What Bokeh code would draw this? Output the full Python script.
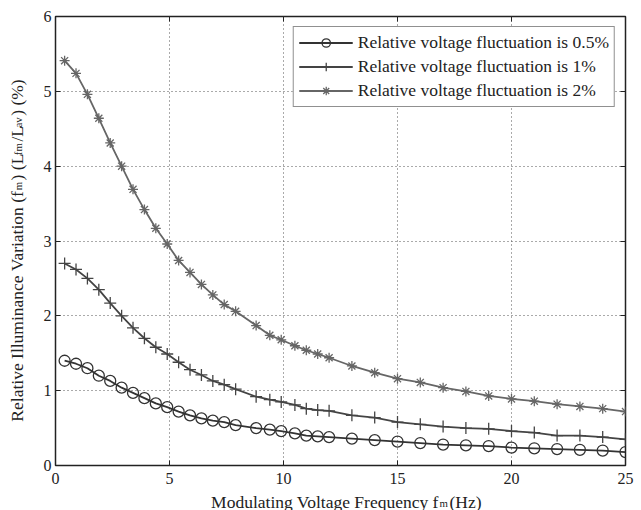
from bokeh.plotting import figure
from bokeh.models import Range1d, FixedTicker, LinearAxis, ColumnDataSource
from bokeh.layouts import row, column
from bokeh.core.properties import value
from bokeh.embed import file_html
from bokeh.resources import INLINE
import math

# Modulating voltage frequency (Hz)
freq = [0.4, 0.9, 1.4, 1.9, 2.4, 2.9, 3.4, 3.9, 4.4, 4.9, 5.4, 5.9, 6.4, 6.9, 7.4, 7.9,
        8.8, 9.4, 9.9, 10.5, 11.0, 11.5, 12,
        13, 14, 15, 16, 17, 18, 19, 20, 21, 22, 23, 24, 25]

# Relative illuminance variation (%) for each voltage fluctuation level
fluct_05 = [1.40, 1.36, 1.30, 1.20, 1.13, 1.04, 0.97, 0.90, 0.83, 0.78, 0.72, 0.67, 0.63, 0.60, 0.58, 0.54,
            0.50, 0.48, 0.46, 0.43, 0.40, 0.39, 0.38,
            0.36, 0.34, 0.32, 0.30, 0.28, 0.27, 0.26, 0.24, 0.23, 0.22, 0.21, 0.20, 0.18]
fluct_1 = [2.70, 2.62, 2.50, 2.35, 2.17, 2.00, 1.84, 1.70, 1.58, 1.49, 1.38, 1.28, 1.21, 1.13, 1.08, 1.02,
           0.92, 0.88, 0.85, 0.81, 0.76, 0.74, 0.73,
           0.67, 0.64, 0.58, 0.55, 0.52, 0.50, 0.49, 0.46, 0.44, 0.40, 0.40, 0.38, 0.35]
fluct_2 = [5.41, 5.24, 4.96, 4.64, 4.31, 4.00, 3.69, 3.42, 3.17, 2.96, 2.74, 2.58, 2.42, 2.28, 2.15, 2.06,
           1.87, 1.74, 1.68, 1.60, 1.54, 1.49, 1.44,
           1.33, 1.24, 1.16, 1.11, 1.04, 0.99, 0.93, 0.89, 0.86, 0.82, 0.79, 0.76, 0.72]

series_labels = ["Relative voltage fluctuation is 0.5%",
                 "Relative voltage fluctuation is 1%",
                 "Relative voltage fluctuation is 2%"]

x_ticks = [0, 5, 10, 15, 20, 25]
y_ticks = [0, 1, 2, 3, 4, 5, 6]

FONT = "Liberation Serif"
INK = "#222222"

# overall canvas 641 x 510: a left strip for the y title, a bottom strip for the x title
W, H = 641, 510
LEFT_W, BOTTOM_H = 30, 22

p = figure(width=W - LEFT_W, height=H - BOTTOM_H, output_backend="svg", toolbar_location=None,
           x_range=Range1d(0, 25), y_range=Range1d(0, 6), frame_align=False,
           min_border_left=25, min_border_right=16, min_border_top=16, min_border_bottom=23)
p.background_fill_color = "white"
p.border_fill_color = "white"
p.outline_line_color = INK
p.outline_line_width = 1.5

# grid: dotted, MATLAB style
for g in (p.xgrid, p.ygrid):
    g.grid_line_color = "#555555"
    g.grid_line_dash = "1 3"
    g.grid_line_width = 1
p.xgrid.ticker = FixedTicker(ticks=x_ticks[1:-1])
p.ygrid.ticker = FixedTicker(ticks=y_ticks[1:-1])


def style_axis(ax, ticks, show_labels, standoff):
    ax.ticker = FixedTicker(ticks=ticks)
    ax.axis_line_color = None
    ax.major_tick_in = 5
    ax.major_tick_out = 0
    ax.major_tick_line_color = INK
    ax.major_tick_line_width = 1
    ax.minor_tick_line_color = None
    ax.major_label_text_font = FONT
    ax.major_label_text_font_size = "16px"
    ax.major_label_text_color = INK
    ax.major_label_standoff = standoff
    if not show_labels:
        ax.major_label_overrides = {t: "" for t in ticks}
        ax.major_label_text_font_size = "0px"
        ax.major_label_standoff = 0


style_axis(p.xaxis[0], x_ticks, True, 7)
style_axis(p.yaxis[0], y_ticks, True, 4)

top_axis = LinearAxis()
style_axis(top_axis, x_ticks, False, 0)
p.add_layout(top_axis, "above")
right_axis = LinearAxis()
style_axis(right_axis, y_ticks, False, 0)
p.add_layout(right_axis, "right")

styles = [
    ("circle", "#333333", 11),
    ("cross", "#444444", 12),
    ("asterisk", "#666666", 10),
]
for vals, label, (marker, color, size) in zip([fluct_05, fluct_1, fluct_2], series_labels, styles):
    p.line(freq, vals, line_color=color, line_width=1.8, legend_label=label)
    p.scatter(freq, vals, marker=marker, size=size, line_color=color, fill_color=None,
              line_width=1.3, legend_label=label)

lg = p.legend[0]
lg.location = "top_right"
lg.margin = 10
lg.label_text_font = FONT
lg.label_text_font_size = "17.5px"
lg.label_text_color = INK
lg.glyph_width = 54
lg.glyph_height = 21
lg.label_height = 21
lg.spacing = 3
lg.padding = 5
lg.label_standoff = 5
lg.border_line_color = INK
lg.border_line_width = 1.5
lg.background_fill_color = "white"
lg.background_fill_alpha = 1.0

# Times-compatible advance widths (1/1000 em) used to lay out titles with subscripts
ADV = {' ': 250, '(': 333, ')': 333, '/': 278, '%': 833, 'R': 667, 'I': 333, 'V': 722,
       'L': 611, 'M': 889, 'F': 556, 'H': 722, 'a': 444, 'c': 444, 'd': 500, 'e': 444,
       'f': 333, 'g': 500, 'i': 278, 'l': 278, 'm': 778, 'n': 500, 'o': 500, 'q': 500,
       'r': 333, 't': 278, 'u': 500, 'v': 500, 'y': 500, 'z': 444}
SUB = 0.62


def text_width(s, fs):
    return sum(ADV.get(c, 500) for c in s) / 1000.0 * fs


def title_source(pieces, fs, center, base, vertical):
    """Lay out a title made of normal and subscript runs along a line."""
    total = sum(text_width(t, fs * SUB if sub else fs) for t, sub in pieces)
    pos = center - total / 2.0
    cols = dict(x=[], y=[], text=[], size=[])
    for t, sub in pieces:
        size = fs * SUB if sub else fs
        shift = 1 if sub else 0
        tuck = -1.5 if sub else 0   # pull subscripts against the preceding letter
        if vertical:
            cols["x"].append(base + shift)
            cols["y"].append(pos + tuck)
        else:
            cols["x"].append(pos + tuck)
            cols["y"].append(base - shift)
        cols["text"].append(t)
        cols["size"].append(f"{size:.1f}px")
        pos += text_width(t, size)
    return ColumnDataSource(cols)


def strip(width, height):
    f = figure(width=width, height=height, output_backend="svg", toolbar_location=None,
               x_range=Range1d(0, width), y_range=Range1d(0, height), frame_align=False,
               min_border=0, x_axis_location=None, y_axis_location=None)
    f.grid.visible = False
    f.outline_line_color = None
    f.background_fill_color = "white"
    f.border_fill_color = "white"
    return f


x_title = strip(W - LEFT_W, BOTTOM_H)
x_src = title_source([("Modulating Voltage Frequency f", False), ("m", True), (" (Hz)", False)],
                     17.5, 348 - LEFT_W, 9, False)
x_title.text(x="x", y="y", text="text", text_font_size="size", source=x_src,
             text_font=value(FONT), text_color=INK, text_align="left", text_baseline="alphabetic")

y_title = strip(LEFT_W, H)
y_src = title_source([("Relative Illuminance Variation (f", False), ("m", True), (") (L", False),
                      ("fm", True), ("/L", False), ("av", True), (") (%)", False)],
                     17.5, H - 250, 16.5, True)
y_title.text(x="x", y="y", text="text", text_font_size="size", source=y_src, angle=math.pi / 2,
             text_font=value(FONT), text_color=INK, text_align="left", text_baseline="alphabetic")

layout = row(y_title, column(p, x_title, spacing=0), spacing=0)

open("out.html", "w").write(file_html(layout, INLINE))
